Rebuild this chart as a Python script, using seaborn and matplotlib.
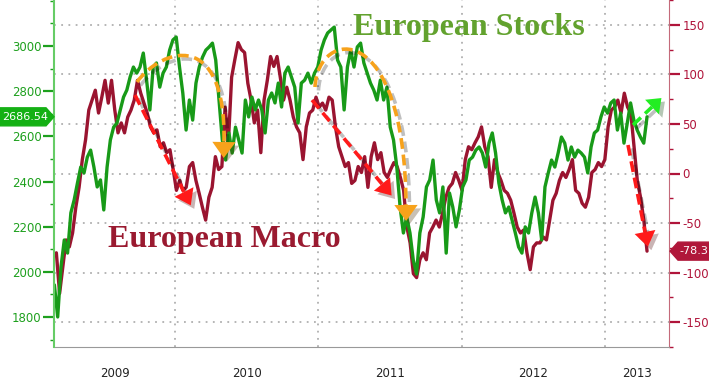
import numpy as np
import pandas as pd
import matplotlib
matplotlib.use('Agg')
import matplotlib.pyplot as plt
import matplotlib.dates as mdates
import matplotlib.patheffects as pe
import matplotlib.transforms as mtransforms
from matplotlib.path import Path
from matplotlib.patches import PathPatch, FancyArrowPatch, Polygon
from matplotlib.ticker import MultipleLocator, NullFormatter
import seaborn as sns

# European Stocks (left axis)
stocks = [
    1942, 1800, 2021, 2141, 2083, 2261, 2318, 2393, 2464, 2438,
    2508, 2539, 2464, 2376, 2407, 2274, 2464, 2584, 2641, 2659,
    2717, 2774, 2805, 2863, 2907, 2880, 2907, 2969, 2849, 2717,
    2907, 2925, 2818, 2880, 2907, 2982, 3027, 3040, 2907, 2792,
    2628, 2761, 2672, 2836, 2907, 2951, 2982, 2996, 3013, 2938,
    2761, 2584, 2495, 2615, 2526, 2641, 2584, 2526, 2761, 2686,
    2774, 2717, 2761, 2717, 2615, 2761, 2792, 2748, 2836, 2730,
    2880, 2907, 2863, 2818, 2659, 2836, 2849, 2880, 2836,
    2880, 2907, 2982, 3027, 3058, 3071, 3084, 2938, 2907, 2717,
    2907, 2982, 2907, 2996, 3013, 2925, 2880, 2836, 2805, 2761,
    2849, 2761, 2818, 2641, 2584, 2464, 2287, 2172, 2243, 2172,
    2052, 1990, 2172, 2243, 2376, 2407, 2495, 2318, 2261, 2376,
    2083, 2349, 2287, 2199, 2274, 2376, 2407, 2495, 2508, 2539,
    2553, 2526, 2464, 2570, 2615, 2526, 2393, 2318, 2261, 2287,
    2230, 2172, 2110, 2083, 2199, 2172, 2261, 2331, 2261, 2141,
    2376, 2438, 2495, 2464, 2526, 2597, 2570, 2495, 2553, 2508,
    2539, 2526, 2508, 2438, 2553, 2615, 2628, 2686, 2730, 2703,
    2748, 2761, 2628, 2703, 2570, 2659, 2748, 2672, 2628, 2597,
    2570, 2686.54]

# European Macro (right axis)
macro = [
    -80, -121, -94, -67, -74, -60, -34, -14, 14, 34,
    64, 74, 84, 61, 77, 94, 71, 94, 64, 41,
    51, 41, 57, 64, 74, 94, 81, 71, 61, 47,
    41, 44, 27, 31, 21, 24, 4, -17, -7, -17,
    -14, 7, 11, -7, -20, -34, -47, -24, -14, 17,
    4, 7, 67, 31, 97, 115, 132, 125, 122, 91,
    74, 51, 64, 21, 74, 94, 118, 108, 118, 97,
    74, 87, 74, 57, 47, 41, 14, 47, 61, 64,
    77, 67, 71, 64, 77, 74, 47, 27, 17, 7,
    11, -10, -7, 7, 1, 17, -14, 17, 31, 14,
    21, 1, -4, 4, 11, 7, -4, -17, -54, -70,
    -101, -105, -87, -80, -87, -60, -54, -47, -54, -40,
    -24, -14, -10, 1, -7, -17, 14, 27, 24, 31,
    37, 47, 27, 17, -14, 14, 1, -7, -17, -20,
    -27, -40, -54, -60, -57, -80, -97, -74, -70, -70,
    -64, -67, -47, -27, -20, -7, 1, -4, 4, 14,
    -17, -20, -30, -34, -24, 1, 4, 11, 7, 14,
    47, 64, 67, 74, 61, 81, 67, 61, 27, -7,
    -24, -47, -78.3]

stocks_start, stocks_end = '2009-02-27', '2013-04-18'
macro_start, macro_end = '2009-03-04', '2013-04-18'
x_start, x_end = '2009-02-26', '2013-06-13'
years = [2009, 2010, 2011, 2012, 2013]
left_ticks = [1800, 2000, 2200, 2400, 2600, 2800, 3000]
right_ticks = [-150, -100, -50, 0, 50, 100, 150]

GREEN = '#189a18'
RED = '#9a1430'
GREEN_TXT = '#1ea01e'
RED_TXT = '#b0143a'

sns.set_style('white')
plt.rcParams['font.family'] = ['DejaVu Sans']
plt.rcParams['axes.unicode_minus'] = False

df_s = pd.DataFrame({'date': pd.date_range(stocks_start, stocks_end, periods=len(stocks)),
                     'value': stocks})
df_m = pd.DataFrame({'date': pd.date_range(macro_start, macro_end, periods=len(macro)),
                     'value': macro})

W, H = 709, 381
fig = plt.figure(figsize=(W / 100, H / 100), dpi=100)
ax = fig.add_axes([54 / W, 34 / H, 615 / W, 347 / H])   # macro, ticks on right
ax2 = ax.twinx()                                          # stocks, ticks on left

sns.lineplot(data=df_m, x='date', y='value', ax=ax, color=RED, lw=2.4, estimator=None)
sns.lineplot(data=df_s, x='date', y='value', ax=ax2, color=GREEN, lw=2.4, estimator=None)
for a in (ax, ax2):
    a.set_xlabel('')
    a.set_ylabel('')

ax.set_xlim(pd.Timestamp(x_start), pd.Timestamp(x_end))
ax.set_ylim(-175, 175)
ax2.set_ylim(1667, 3204)

# y axes
ax.yaxis.tick_right()
ax.set_yticks(right_ticks)
ax.yaxis.set_minor_locator(MultipleLocator(25))
ax.tick_params(axis='y', which='major', colors=RED_TXT, length=8, width=1.6,
               labelsize=8.5, pad=1.5, left=False, right=True)
ax.tick_params(axis='y', which='minor', color=RED_TXT, length=3, width=1,
               left=False, right=True)

ax2.yaxis.tick_left()
ax2.set_yticks(left_ticks)
ax2.yaxis.set_minor_locator(MultipleLocator(100))
ax2.tick_params(axis='y', which='major', colors=GREEN_TXT, length=8, width=1.6,
                labelsize=8.5, pad=1, left=True, right=False)
ax2.tick_params(axis='y', which='minor', color=GREEN_TXT, length=3, width=1,
                left=True, right=False)

# spines
for s in ('top', 'left'):
    ax.spines[s].set_visible(False)
for s in ('top', 'bottom', 'right'):
    ax2.spines[s].set_visible(False)
ax.spines['right'].set_color('#c46a7a')
ax.spines['bottom'].set_color('#999999')
ax2.spines['left'].set_color('#66cc66')
ax2.spines['left'].set_linewidth(1.5)

# x axis: year strip below the plot
bounds = [pd.Timestamp(x_start)] + [pd.Timestamp(f'{y}-01-01') for y in years[1:]] + [pd.Timestamp(x_end)]
ax.set_xticks(bounds)
ax.xaxis.set_major_formatter(NullFormatter())
ax.xaxis.set_minor_locator(mdates.MonthLocator(bymonth=[1, 4, 7, 10]))
ax.xaxis.set_minor_formatter(NullFormatter())
ax.tick_params(axis='x', which='major', length=24.5, width=1, color='#aaaaaa')
ax.tick_params(axis='x', which='minor', length=3, width=1, color='#777777')

ylab = mtransforms.blended_transform_factory(ax.transData, ax.transAxes)
for i, y in enumerate(years):
    mid = bounds[i] + (bounds[i + 1] - bounds[i]) / 2
    ax.text(mid, -0.075, str(y), transform=ylab, ha='center', va='center',
            fontsize=8.5, color='#222222')

# grid
ax.grid(axis='y', which='major', ls=(0, (1, 3)), color='#b0b0b0', lw=1.3)
ax.grid(axis='x', visible=False)
for b in bounds[1:-1]:
    ax.axvline(b, ls=(0, (1, 3)), color='#b0b0b0', lw=1.3, zorder=0)


# annotations, positioned in reference pixel coordinates
def fxy(px, py):
    return (px / W, 1 - py / H)


def dashed_arrow(pts, color, head_len=15, head_w=0.3):
    pts = np.array(pts, dtype=float)
    d = pts[-1] - pts[-2]
    d = d / np.hypot(*d)
    tip = pts[-1] + d * head_len
    verts = [fxy(*p) for p in pts]
    codes = [Path.MOVETO] + ([Path.LINETO] if len(pts) == 2 else [Path.CURVE4] * 3)
    fig.add_artist(PathPatch(Path(verts, codes), fill=False, edgecolor=color, lw=2.6,
                             ls=(0, (3, 1.6)), capstyle='butt', transform=fig.transFigure,
                             path_effects=[pe.SimpleLineShadow(offset=(2.5, -2.5), alpha=0.25),
                                           pe.Normal()]))
    base = pts[-1] - d * 2
    fig.add_artist(FancyArrowPatch(fxy(*base), fxy(*tip), transform=fig.transFigure,
                                   arrowstyle=f'-|>,head_length={head_len / 1.39 / 20:.3f},head_width={head_w:.3f}',
                                   mutation_scale=20, color=color, lw=0, shrinkA=0, shrinkB=0,
                                   path_effects=[pe.SimplePatchShadow(offset=(2.5, -2.5), alpha=0.3),
                                                 pe.Normal()]))


ORANGE = '#f7a21b'
dashed_arrow([(137, 82), (162, 48), (226, 28), (224, 142)], ORANGE, head_len=16, head_w=0.42)
dashed_arrow([(315, 87), (318, 28), (405, 18), (406, 205)], ORANGE, head_len=16, head_w=0.42)
dashed_arrow([(135, 95), (184, 192)], '#ff1a1a', head_len=15, head_w=0.38)
dashed_arrow([(312, 100), (382, 184)], '#ff1a1a', head_len=15, head_w=0.38)
dashed_arrow([(628, 145), (645, 232)], '#ff1a1a', head_len=15, head_w=0.38)
dashed_arrow([(633, 125), (652, 107)], '#22ee22', head_len=13, head_w=0.36)

# series titles
ax2.text((353 - 54) / 615, 1 - 35 / 347, 'European Stocks', transform=ax2.transAxes,
         ha='left', va='baseline', fontsize=23, color='#62a22e', fontweight='bold',
         family='Liberation Serif')
ax2.text((108 - 54) / 615, 1 - 247 / 347, 'European Macro', transform=ax2.transAxes,
         ha='left', va='baseline', fontsize=23, color='#9a1a30', fontweight='bold',
         family='Liberation Serif')

# last-value tags
fig.canvas.draw()
yg = ax2.transData.transform((mdates.date2num(df_s['date'].iloc[-1]), stocks[-1]))[1]
yr = ax.transData.transform((mdates.date2num(df_m['date'].iloc[-1]), macro[-1]))[1]
h = 9
fig.add_artist(Polygon([(0, yg - h), (46, yg - h), (54, yg), (46, yg + h), (0, yg + h)],
                       closed=True, color='#14b014', transform=mtransforms.IdentityTransform()))
fig.text(2 / W, yg / H, f'{stocks[-1]:.2f}', color='white', fontsize=8, va='center', ha='left')
fig.add_artist(Polygon([(670, yr), (678, yr + h), (712, yr + h), (712, yr - h), (678, yr - h)],
                       closed=True, color='#b0173a', transform=mtransforms.IdentityTransform()))
fig.text(679 / W, yr / H, f'{macro[-1]:.1f}', color='white', fontsize=8, va='center', ha='left')

fig.savefig('out.png', dpi=100)
